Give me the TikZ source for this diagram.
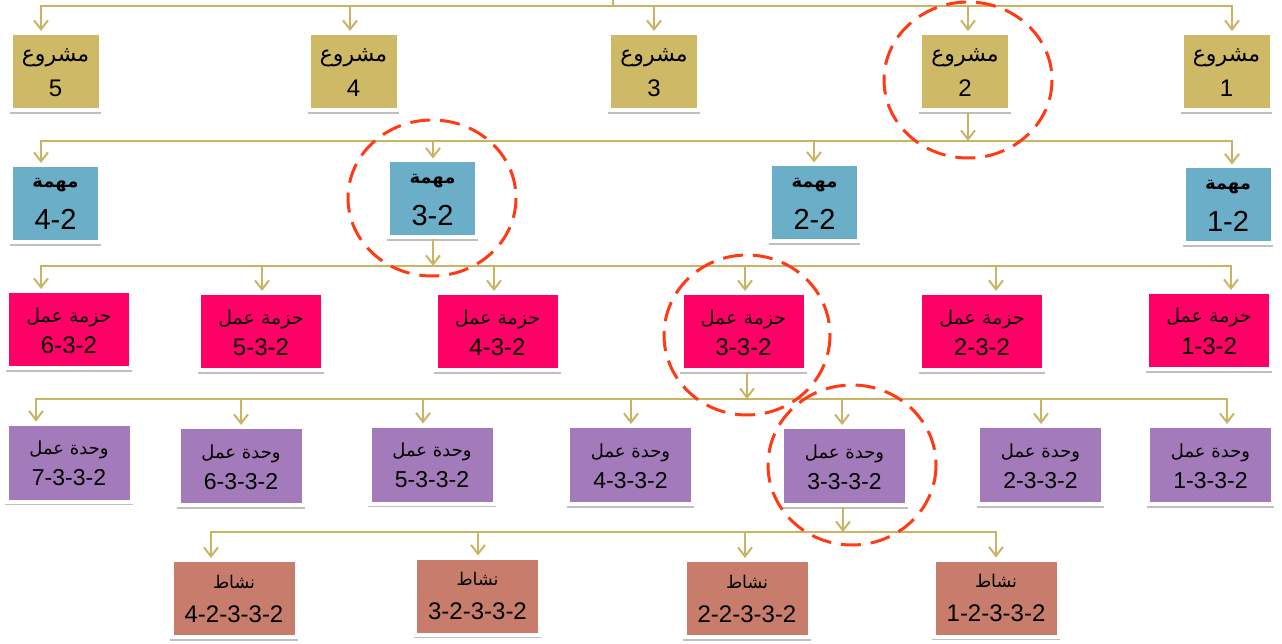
\documentclass[tikz,border=0pt]{standalone}
\usepackage{fontspec}
\setmainfont{Liberation Sans}
\newfontfamily\arabicfont[Script=Arabic]{DejaVu Sans}
\TeXXeTstate=1
\usetikzlibrary{arrows.meta,shadows}
\definecolor{cgoldf}{RGB}{206,185,102}
\definecolor{cbluef}{RGB}{106,174,200}
\definecolor{cpinkf}{RGB}{255,0,102}
\definecolor{cpurpf}{RGB}{164,123,186}
\definecolor{csalmf}{RGB}{200,125,108}
\definecolor{linec}{RGB}{201,180,102}
\definecolor{ringc}{RGB}{255,58,20}
\newcommand\wbox[7]{%
  \node[wbsbox,#2,#1size] (#3) at (#4,#5) {};
  \node[#1ar] (#3a) at (#3.center) {#6};
  \node[#1num] (#3n) at (#3.center) {#7};}
\newcommand\kid[3]{%
  \coordinate (k#3) at (#2,#1);
  \draw[arr] (k#3) -- (k#3 |- #3.north);}
\newcommand\drop[3]{%
  \coordinate (d#1) at (#2,#3);
  \draw[arr] (d#1 |- #1.south) -- (d#1);}
\begin{document}
\begin{tikzpicture}[x=1pt,y=-1pt,
  wbsbox/.style={draw=white, line width=4pt, inner sep=0pt,
    drop shadow={shadow xshift=0pt, shadow yshift=-3pt, shadow scale=1.02, fill=black, opacity=0.25}},
  cgold/.style={fill=cgoldf}, cblue/.style={fill=cbluef}, cpink/.style={fill=cpinkf},
  cpurp/.style={fill=cpurpf}, csalm/.style={fill=csalmf},
  r1size/.style={minimum width=90pt, minimum height=77pt},
  r2size/.style={minimum width=89pt, minimum height=77pt},
  r3size/.style={minimum width=124pt, minimum height=77pt},
  r4size/.style={minimum width=125pt, minimum height=78pt},
  r5size/.style={minimum width=125pt, minimum height=77pt},
  txtbase/.style={anchor=base, inner sep=0pt, text=black},
  r1ar/.style={txtbase, yshift=9.5pt, font=\arabicfont\fontsize{22}{26}\selectfont},
  r1num/.style={txtbase, yshift=-25.5pt, font=\fontsize{24}{28}\selectfont},
  r2ar/.style={txtbase, yshift=15.5pt, font=\arabicfont\bfseries\fontsize{18}{20}\selectfont},
  r2num/.style={txtbase, yshift=-26.5pt, font=\fontsize{29}{32}\selectfont},
  r3ar/.style={txtbase, yshift=7.5pt, font=\arabicfont\fontsize{19}{24}\selectfont},
  r3num/.style={txtbase, yshift=-23.5pt, font=\fontsize{24}{28}\selectfont},
  r4ar/.style={txtbase, yshift=8pt, font=\arabicfont\fontsize{18}{24}\selectfont},
  r4num/.style={txtbase, yshift=-23pt, font=\fontsize{23}{28}\selectfont},
  r5ar/.style={txtbase, yshift=10.5pt, font=\arabicfont\fontsize{17.5}{24}\selectfont},
  r5num/.style={txtbase, yshift=-23.5pt, font=\fontsize{24}{28}\selectfont},
  conn/.style={draw=linec, line width=2pt},
  bus/.style={conn, line cap=rect},
  arr/.style={conn, -{Straight Barb[length=9pt,width=14pt]}},
  ring/.style={draw=ringc, line width=3pt, dash pattern=on 20pt off 10pt}]
\useasboundingbox (0,0) rectangle (1282,644);
% row 1
\wbox{r1}{cgold}{p5}{55.5}{71.5}{\beginR مشروع\endR}{5}
\wbox{r1}{cgold}{p4}{353.5}{71.5}{\beginR مشروع\endR}{4}
\wbox{r1}{cgold}{p3}{654}{71.5}{\beginR مشروع\endR}{3}
\wbox{r1}{cgold}{p2}{965}{71.5}{\beginR مشروع\endR}{2}
\wbox{r1}{cgold}{p1}{1226.5}{71.5}{\beginR مشروع\endR}{1}
% row 2
\wbox{r2}{cblue}{m4}{55.5}{203.5}{\beginR مهمة\endR}{4-2}
\wbox{r2}{cblue}{m3}{432.5}{199}{\beginR مهمة\endR}{3-2}
\wbox{r2}{cblue}{m2}{814.5}{203}{\beginR مهمة\endR}{2-2}
\wbox{r2}{cblue}{m1}{1228}{205}{\beginR مهمة\endR}{1-2}
% row 3
\wbox{r3}{cpink}{h6}{69}{329.5}{\beginR حزمة عمل\endR}{6-3-2}
\wbox{r3}{cpink}{h5}{261}{331.5}{\beginR حزمة عمل\endR}{5-3-2}
\wbox{r3}{cpink}{h4}{497.5}{331.5}{\beginR حزمة عمل\endR}{4-3-2}
\wbox{r3}{cpink}{h3}{743.5}{331.5}{\beginR حزمة عمل\endR}{3-3-2}
\wbox{r3}{cpink}{h2}{982}{331.5}{\beginR حزمة عمل\endR}{2-3-2}
\wbox{r3}{cpink}{h1}{1209}{330.5}{\beginR حزمة عمل\endR}{1-3-2}
% row 4
\wbox{r4}{cpurp}{w7}{69}{462.5}{\beginR وحدة عمل\endR}{7-3-3-2}
\wbox{r4}{cpurp}{w6}{241}{466}{\beginR وحدة عمل\endR}{6-3-3-2}
\wbox{r4}{cpurp}{w5}{432}{464.5}{\beginR وحدة عمل\endR}{5-3-3-2}
\wbox{r4}{cpurp}{w4}{630.5}{465}{\beginR وحدة عمل\endR}{4-3-3-2}
\wbox{r4}{cpurp}{w3}{844.5}{466}{\beginR وحدة عمل\endR}{3-3-3-2}
\wbox{r4}{cpurp}{w2}{1040.5}{465}{\beginR وحدة عمل\endR}{2-3-3-2}
\wbox{r4}{cpurp}{w1}{1210.5}{465}{\beginR وحدة عمل\endR}{1-3-3-2}
% row 5
\wbox{r5}{csalm}{n4}{234}{598.5}{\beginR نشاط\endR}{4-2-3-3-2}
\wbox{r5}{csalm}{n3}{477.5}{596}{\beginR نشاط\endR}{3-2-3-3-2}
\wbox{r5}{csalm}{n2}{747}{598.5}{\beginR نشاط\endR}{2-2-3-3-2}
\wbox{r5}{csalm}{n1}{996}{598}{\beginR نشاط\endR}{1-2-3-3-2}
% connectors row 1
\kid{6}{41}{p5}\kid{6}{350}{p4}\kid{6}{654}{p3}\kid{6}{968}{p2}\kid{6}{1232}{p1}
\draw[bus] (kp5) -- (kp1);
\coordinate (root) at (613,0);
\draw[conn] (root) -- (root |- kp5);
% row 2
\drop{p2}{968}{141}
\kid{141}{41}{m4}\kid{141}{433}{m3}\kid{141}{814}{m2}\kid{141}{1232}{m1}
\draw[bus] (km4) -- (km1);
% row 3
\drop{m3}{433}{266}
\kid{266}{41}{h6}\kid{266}{262}{h5}\kid{266}{494}{h4}\kid{266}{745}{h3}\kid{266}{996}{h2}\kid{266}{1231}{h1}
\draw[bus] (kh6) -- (kh1);
% row 4
\drop{h3}{747}{399}
\kid{399}{36}{w7}\kid{399}{241}{w6}\kid{399}{423}{w5}\kid{399}{631}{w4}\kid{399}{842}{w3}\kid{399}{1041}{w2}\kid{399}{1227}{w1}
\draw[bus] (kw7) -- (kw1);
% row 5
\drop{w3}{843}{532}
\kid{532}{211}{n4}\kid{532}{478}{n3}\kid{532}{745}{n2}\kid{532}{996}{n1}
\draw[bus] (kn4) -- (kn1);
% rings
\draw[ring] (968,80) ellipse [x radius=84, y radius=78];
\draw[ring] (432,198) ellipse [x radius=84, y radius=78];
\draw[ring] (747,335) ellipse [x radius=83, y radius=80];
\draw[ring] (852,465) ellipse [x radius=84, y radius=80];
\end{tikzpicture}
\end{document}
